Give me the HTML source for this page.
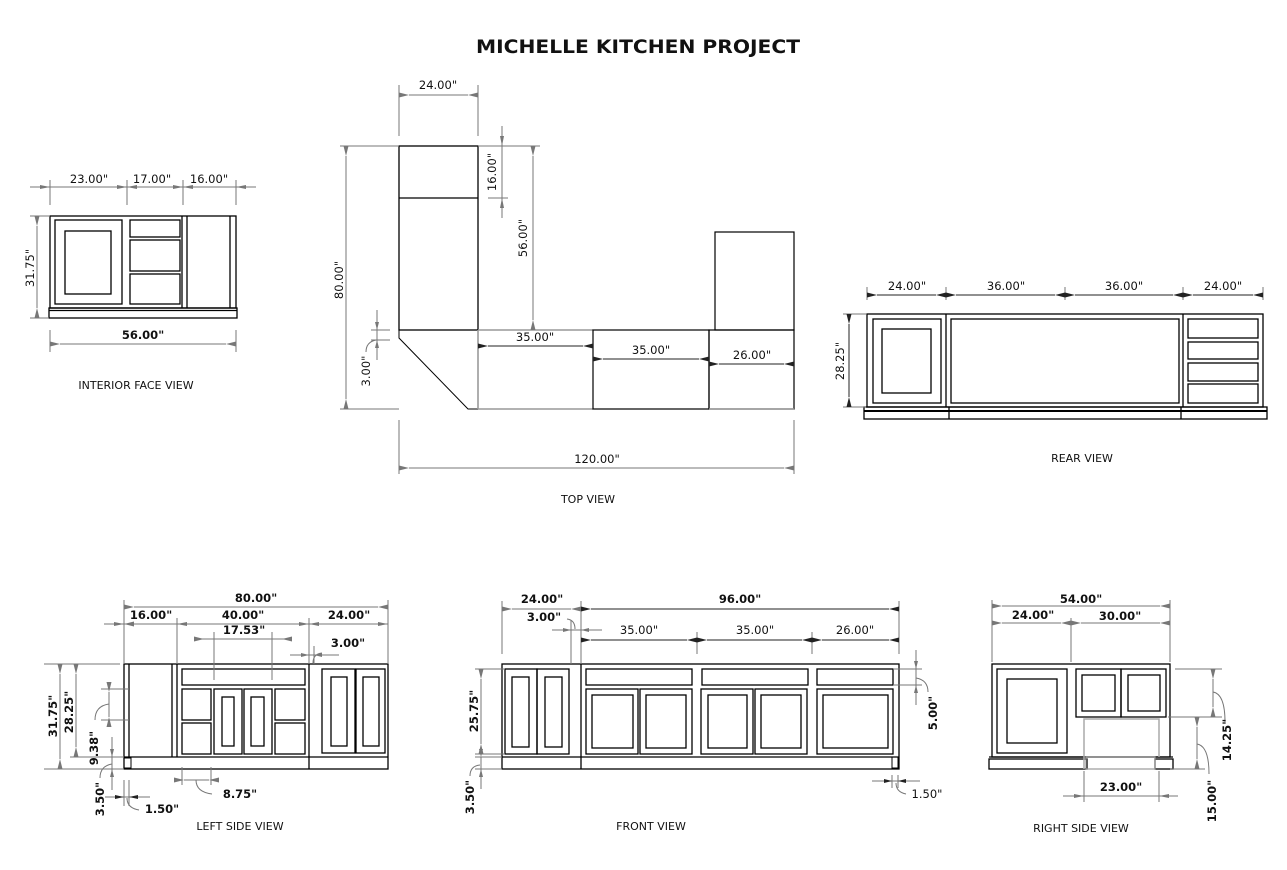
<!DOCTYPE html>
<html><head><meta charset="utf-8"><style>
html,body{margin:0;padding:0;background:#fff;}
svg{display:block}
text{font-family:"DejaVu Sans","Liberation Sans",sans-serif;font-size:11.5px;fill:#111}
.b{font-weight:bold}
.o{fill:none;stroke:#000;stroke-width:1.3}
.g{fill:none;stroke:#999;stroke-width:1.6}
.d{fill:none;stroke:#777;stroke-width:1}
.a{fill:none;stroke:#777;stroke-width:1;marker-start:url(#m);marker-end:url(#m)}
.k{fill:none;stroke:#222;stroke-width:1;marker-start:url(#mk);marker-end:url(#mk)}
</style></head><body>
<svg width="1287" height="870" viewBox="0 0 1287 870" xmlns="http://www.w3.org/2000/svg">
<defs>
<marker id="m" viewBox="0 0 10 6" refX="0" refY="3" markerWidth="10" markerHeight="6" orient="auto-start-reverse" markerUnits="userSpaceOnUse"><path d="M0,3 L10,0.5 L10,5.5z" fill="#777"/></marker>
<marker id="mk" viewBox="0 0 10 6" refX="0" refY="3" markerWidth="10" markerHeight="6" orient="auto-start-reverse" markerUnits="userSpaceOnUse"><path d="M0,3 L10,0.5 L10,5.5z" fill="#222"/></marker>
</defs>
<text x="638" y="53" text-anchor="middle" style="font-size:19px;font-weight:bold" textLength="324" lengthAdjust="spacingAndGlyphs">MICHELLE KITCHEN PROJECT</text>

<!-- INTERIOR FACE VIEW -->
<rect class="o" x="50" y="216" width="186" height="92"/>
<rect class="o" x="49" y="308" width="188" height="10"/>
<line class="o" x1="49" y1="310.5" x2="237" y2="310.5"/>
<rect class="o" x="55" y="220" width="67" height="84"/>
<rect class="o" x="65" y="231" width="46" height="63"/>
<rect class="o" x="130" y="220" width="50" height="17"/>
<rect class="o" x="130" y="240" width="50" height="31"/>
<rect class="o" x="130" y="274" width="50" height="30"/>
<line class="o" x1="182" y1="216" x2="182" y2="308"/><line class="o" x1="187" y1="216" x2="187" y2="308"/>
<line class="o" x1="230" y1="216" x2="230" y2="308"/>
<line class="d" x1="50" y1="180" x2="50" y2="205"/><line class="d" x1="127" y1="180" x2="127" y2="205"/><line class="d" x1="183" y1="180" x2="183" y2="205"/><line class="d" x1="236" y1="180" x2="236" y2="205"/>
<line class="d" x1="30" y1="187" x2="256" y2="187"/>
<path d="M50,187 l-10,-2 v4z M127,187 l-10,-2 v4z M127,187 l10,-2 v4z M183,187 l-10,-2 v4z M183,187 l10,-2 v4z M236,187 l10,-2 v4z" fill="#777"/>
<text x="89" y="183" text-anchor="middle">23.00"</text><text x="152" y="183" text-anchor="middle">17.00"</text><text x="209" y="183" text-anchor="middle">16.00"</text>
<line class="d" x1="50" y1="330" x2="50" y2="352"/><line class="d" x1="236" y1="330" x2="236" y2="352"/>
<line class="a" x1="60" y1="344" x2="226" y2="344"/>
<text x="143" y="339" text-anchor="middle" class="b">56.00"</text>
<line class="d" x1="30" y1="216" x2="50" y2="216"/><line class="d" x1="30" y1="318" x2="49" y2="318"/>
<line class="a" x1="37" y1="226" x2="37" y2="308"/>
<text transform="translate(34,268) rotate(-90)" text-anchor="middle">31.75"</text>
<text x="136" y="389" text-anchor="middle" style="font-size:11px">INTERIOR FACE VIEW</text>

<!-- TOP VIEW -->
<rect class="o" x="399" y="146" width="79" height="184"/>
<line class="o" x1="399" y1="198" x2="478" y2="198"/>
<path class="o" d="M399,330 V338 L468,409 H478" style="stroke-width:1"/>
<line class="g" x1="478" y1="330" x2="478" y2="409"/>
<line class="g" x1="478" y1="330" x2="593" y2="330"/>
<line class="g" x1="478" y1="409" x2="593" y2="409"/>
<rect class="o" x="593" y="330" width="116" height="79" style="stroke-width:1.2"/>
<rect class="o" x="709" y="330" width="85" height="79" style="stroke-width:1.2"/>
<line class="g" x1="709" y1="409" x2="794" y2="409"/>
<rect class="o" x="715" y="232" width="79" height="98" style="stroke-width:1.2"/>
<line class="d" x1="399" y1="85" x2="399" y2="136"/><line class="d" x1="478" y1="85" x2="478" y2="136"/>
<line class="a" x1="409" y1="95" x2="468" y2="95"/>
<text x="438" y="89" text-anchor="middle">24.00"</text>
<line class="d" x1="340" y1="146" x2="399" y2="146"/><line class="d" x1="340" y1="409" x2="399" y2="409"/>
<line class="a" x1="346" y1="156" x2="346" y2="399"/>
<text transform="translate(343,280) rotate(-90)" text-anchor="middle">80.00"</text>
<line class="d" x1="478" y1="146" x2="540" y2="146"/><line class="d" x1="488" y1="198" x2="508" y2="198"/>
<line class="d" x1="502" y1="126" x2="502" y2="218"/>
<path d="M502,146 l-2,-10 h4z M502,198 l-2,10 h4z" fill="#777"/>
<text transform="translate(496,172) rotate(-90)" text-anchor="middle">16.00"</text>
<line class="a" x1="533" y1="156" x2="533" y2="320"/>
<text transform="translate(527,238) rotate(-90)" text-anchor="middle">56.00"</text>
<line class="d" x1="371" y1="330" x2="390" y2="330"/><line class="d" x1="371" y1="340" x2="390" y2="340"/>
<line class="d" x1="377" y1="310" x2="377" y2="360"/>
<path d="M377,330 l-2,-8 h4z M377,340 l-2,8 h4z" fill="#777"/>
<path class="d" d="M366,352 q0,-10 10,-12"/>
<text transform="translate(370,371) rotate(-90)" text-anchor="middle">3.00"</text>
<line class="k" x1="488" y1="346" x2="583" y2="346"/><text x="535" y="341" text-anchor="middle">35.00"</text>
<line class="k" x1="603" y1="359" x2="699" y2="359"/><text x="651" y="354" text-anchor="middle">35.00"</text>
<line class="k" x1="719" y1="364" x2="784" y2="364"/><text x="752" y="359" text-anchor="middle">26.00"</text>
<line class="d" x1="399" y1="420" x2="399" y2="474"/><line class="d" x1="794" y1="420" x2="794" y2="474"/>
<line class="a" x1="409" y1="468" x2="784" y2="468"/>
<text x="597" y="463" text-anchor="middle">120.00"</text>
<text x="588" y="503" text-anchor="middle" style="font-size:11px">TOP VIEW</text>

<!-- REAR VIEW -->
<rect class="o" x="867" y="314" width="396" height="93"/>
<rect class="o" x="864" y="407" width="403" height="12"/>
<line class="o" x1="864" y1="411" x2="1267" y2="411" style="stroke-width:2"/>
<line class="o" x1="946" y1="314" x2="946" y2="407"/><line class="o" x1="1183" y1="314" x2="1183" y2="407"/>
<line class="o" x1="949" y1="407" x2="949" y2="419"/><line class="o" x1="1181" y1="407" x2="1181" y2="419"/>
<rect class="o" x="873" y="319" width="68" height="84"/><rect class="o" x="882" y="329" width="49" height="64"/>
<rect class="o" x="951" y="319" width="228" height="84"/>
<rect class="o" x="1188" y="319" width="70" height="19"/><rect class="o" x="1188" y="342" width="70" height="17"/>
<rect class="o" x="1188" y="363" width="70" height="18"/><rect class="o" x="1188" y="384" width="70" height="19"/>
<g class="d"><line x1="867" y1="287" x2="867" y2="300"/><line x1="946" y1="287" x2="946" y2="300"/><line x1="1065" y1="287" x2="1065" y2="300"/><line x1="1183" y1="287" x2="1183" y2="300"/><line x1="1263" y1="287" x2="1263" y2="300"/></g>
<line class="k" x1="877" y1="295" x2="936" y2="295"/><line class="k" x1="956" y1="295" x2="1055" y2="295"/><line class="k" x1="1075" y1="295" x2="1173" y2="295"/><line class="k" x1="1193" y1="295" x2="1253" y2="295"/>
<text x="907" y="290" text-anchor="middle">24.00"</text><text x="1006" y="290" text-anchor="middle">36.00"</text><text x="1124" y="290" text-anchor="middle">36.00"</text><text x="1223" y="290" text-anchor="middle">24.00"</text>
<line class="d" x1="843" y1="314" x2="866" y2="314"/><line class="d" x1="843" y1="407" x2="866" y2="407"/>
<line class="k" x1="849" y1="324" x2="849" y2="397"/>
<text transform="translate(844,361) rotate(-90)" text-anchor="middle">28.25"</text>
<text x="1082" y="462" text-anchor="middle" style="font-size:11px">REAR VIEW</text>

<!-- LEFT SIDE VIEW -->
<rect class="o" x="124" y="664" width="264" height="105"/>
<line class="o" x1="124" y1="757" x2="388" y2="757"/>
<line class="o" x1="129" y1="664" x2="129" y2="757"/>
<line class="o" x1="172" y1="664" x2="172" y2="757"/><line class="o" x1="177" y1="664" x2="177" y2="757"/>
<line class="o" x1="309" y1="664" x2="309" y2="769"/>
<rect class="o" x="124" y="758" width="7" height="10" style="stroke-width:1"/>
<rect class="o" x="182" y="669" width="123" height="16"/>
<rect class="o" x="182" y="689" width="29" height="31"/><rect class="o" x="182" y="723" width="29" height="31"/>
<rect class="o" x="214" y="689" width="28" height="65"/><rect class="o" x="222" y="697" width="12" height="49"/>
<rect class="o" x="244" y="689" width="28" height="65"/><rect class="o" x="251" y="697" width="13" height="49"/>
<rect class="o" x="275" y="689" width="30" height="31"/><rect class="o" x="275" y="723" width="30" height="31"/>
<rect class="o" x="322" y="669" width="33" height="84"/><rect class="o" x="331" y="677" width="16" height="69"/>
<rect class="o" x="356" y="669" width="29" height="84"/><rect class="o" x="363" y="677" width="16" height="69"/>
<g class="d"><line x1="124" y1="600" x2="124" y2="664"/><line x1="388" y1="600" x2="388" y2="664"/><line x1="177" y1="618" x2="177" y2="664"/><line x1="309" y1="618" x2="309" y2="664"/>
<line x1="214" y1="632" x2="214" y2="680"/><line x1="272" y1="632" x2="272" y2="680"/></g>
<line class="a" x1="134" y1="607" x2="378" y2="607"/><text x="256" y="602" text-anchor="middle" class="b">80.00"</text>
<line class="a" x1="114" y1="624" x2="124" y2="624" style="marker-start:none"/>
<line class="d" x1="104" y1="624" x2="388" y2="624"/>
<path d="M124,624 l-10,-2 v4z M177,624 l10,-2 v4z M309,624 l-10,-2 v4z M309,624 l10,-2 v4z M388,624 l-10,-2 v4z" fill="#777"/>
<text x="151" y="619" text-anchor="middle" class="b">16.00"</text><text x="243" y="619" text-anchor="middle" class="b">40.00"</text><text x="349" y="619" text-anchor="middle" class="b">24.00"</text>
<line class="a" x1="204" y1="639" x2="282" y2="639"/><line class="d" x1="194" y1="639" x2="292" y2="639"/><text x="244" y="634" text-anchor="middle" class="b">17.53"</text>
<line class="d" x1="290" y1="655" x2="339" y2="655"/><line class="d" x1="314" y1="646" x2="314" y2="664"/>
<path d="M309,655 l-8,-2 v4z M314,655 l8,-2 v4z" fill="#777"/>
<path class="d" d="M313,663 q0,-9 9,-10"/>
<text x="348" y="647" text-anchor="middle" class="b">3.00"</text>
<g class="d"><line x1="44" y1="664" x2="120" y2="664"/><line x1="44" y1="769" x2="124" y2="769"/><line x1="70" y1="757" x2="124" y2="757"/>
<line x1="101" y1="689" x2="129" y2="689"/><line x1="101" y1="720" x2="129" y2="720"/>
<line x1="112" y1="737" x2="112" y2="790"/></g>
<line class="a" x1="60" y1="674" x2="60" y2="759"/>
<line class="a" x1="76" y1="674" x2="76" y2="747"/>
<line class="a" x1="109" y1="692" x2="109" y2="717"/><path class="d" d="M95,720 q0,-14 14,-16"/>
<path d="M112,757 l-2,-8 h4z M112,769 l-2,8 h4z" fill="#777"/><path class="d" d="M100,778 q0,-12 12,-14"/>
<text transform="translate(57,716) rotate(-90)" text-anchor="middle" class="b">31.75"</text>
<text transform="translate(73,712) rotate(-90)" text-anchor="middle" class="b">28.25"</text>
<text transform="translate(98,748) rotate(-90)" text-anchor="middle" class="b">9.38"</text>
<text transform="translate(104,799) rotate(-90)" text-anchor="middle" class="b">3.50"</text>
<g class="d"><line x1="124" y1="780" x2="124" y2="806"/><line x1="129" y1="780" x2="129" y2="806"/><line x1="105" y1="797" x2="150" y2="797"/>
<line x1="182" y1="767" x2="182" y2="785"/><line x1="211" y1="767" x2="211" y2="785"/></g>
<path d="M124,797 l-9,-2 v4z M129,797 l9,-2 v4z" fill="#222"/>
<path class="d" d="M127,798 q0,10 12,12"/>
<text x="162" y="813" text-anchor="middle" class="b">1.50"</text>
<line class="a" x1="184" y1="780" x2="209" y2="780"/><path class="d" d="M196,780 q0,12 16,14"/>
<text x="240" y="798" text-anchor="middle" class="b">8.75"</text>
<text x="240" y="830" text-anchor="middle" style="font-size:11px">LEFT SIDE VIEW</text>

<!-- FRONT VIEW -->
<rect class="o" x="502" y="664" width="397" height="105"/>
<line class="o" x1="502" y1="757" x2="899" y2="757"/>
<line class="o" x1="581" y1="664" x2="581" y2="769"/>
<rect class="o" x="505" y="669" width="32" height="85"/><rect class="o" x="537" y="669" width="32" height="85"/>
<rect class="o" x="512" y="677" width="17" height="70"/><rect class="o" x="545" y="677" width="17" height="70"/>
<rect class="o" x="586" y="669" width="106" height="16"/><rect class="o" x="702" y="669" width="106" height="16"/><rect class="o" x="817" y="669" width="76" height="16"/>
<rect class="o" x="586" y="689" width="52" height="65"/><rect class="o" x="640" y="689" width="52" height="65"/>
<rect class="o" x="701" y="689" width="52" height="65"/><rect class="o" x="755" y="689" width="52" height="65"/>
<rect class="o" x="817" y="689" width="76" height="65"/>
<rect class="o" x="592" y="695" width="41" height="53"/><rect class="o" x="646" y="695" width="40" height="53"/>
<rect class="o" x="708" y="695" width="39" height="53"/><rect class="o" x="761" y="695" width="40" height="53"/><rect class="o" x="823" y="695" width="65" height="53"/>
<rect class="o" x="892" y="757" width="6" height="11" style="stroke-width:1"/>
<g class="d"><line x1="502" y1="601" x2="502" y2="654"/><line x1="581" y1="601" x2="581" y2="664"/><line x1="899" y1="601" x2="899" y2="654"/><line x1="571" y1="620" x2="571" y2="664"/>
<line x1="697" y1="632" x2="697" y2="654"/><line x1="812" y1="632" x2="812" y2="654"/><line x1="552" y1="630" x2="602" y2="630"/></g>
<line class="a" x1="512" y1="609" x2="571" y2="609"/><text x="542" y="603" text-anchor="middle" class="b">24.00"</text>
<line class="k" x1="591" y1="609" x2="889" y2="609"/><text x="740" y="603" text-anchor="middle" class="b">96.00"</text>
<path d="M571,630 l-8,-2 v4z M581,630 l8,-2 v4z" fill="#777"/><path class="d" d="M575,629 q0,-9 -8,-10"/>
<text x="544" y="621" text-anchor="middle" class="b">3.00"</text>
<line class="k" x1="591" y1="640" x2="687" y2="640"/><line class="k" x1="707" y1="640" x2="802" y2="640"/><line class="k" x1="822" y1="640" x2="889" y2="640"/>
<text x="639" y="634" text-anchor="middle">35.00"</text><text x="755" y="634" text-anchor="middle">35.00"</text><text x="855" y="634" text-anchor="middle">26.00"</text>
<g class="d"><line x1="475" y1="669" x2="505" y2="669"/><line x1="475" y1="754" x2="505" y2="754"/><line x1="475" y1="757" x2="502" y2="757"/><line x1="475" y1="769" x2="502" y2="769"/>
<line x1="481" y1="757" x2="481" y2="789"/><line x1="893" y1="669" x2="922" y2="669"/><line x1="893" y1="685" x2="922" y2="685"/><line x1="916" y1="650" x2="916" y2="705"/></g>
<line class="a" x1="481" y1="679" x2="481" y2="744"/>
<path d="M481,757 l-2,-8 h4z M481,769 l-2,8 h4z" fill="#777"/><path class="d" d="M470,776 q0,-10 10,-11"/>
<text transform="translate(478,711) rotate(-90)" text-anchor="middle" class="b">25.75"</text>
<text transform="translate(474,797) rotate(-90)" text-anchor="middle" class="b">3.50"</text>
<path d="M916,669 l-2,-8 h4z M916,685 l-2,8 h4z" fill="#777"/><path class="d" d="M916,678 q12,2 12,14"/>
<text transform="translate(937,713) rotate(-90)" text-anchor="middle" class="b">5.00"</text>
<g class="d"><line x1="892" y1="775" x2="892" y2="788"/><line x1="898" y1="775" x2="898" y2="788"/><line x1="872" y1="781" x2="920" y2="781"/></g>
<path d="M892,781 l-8,-2 v4z M898,781 l8,-2 v4z" fill="#222"/><path class="d" d="M896,783 q0,9 10,11"/>
<text x="927" y="798" text-anchor="middle">1.50"</text>
<text x="651" y="830" text-anchor="middle" style="font-size:11px">FRONT VIEW</text>

<!-- RIGHT SIDE VIEW -->
<rect class="o" x="992" y="664" width="178" height="93"/>
<rect class="o" x="989" y="759" width="98" height="10"/><rect class="o" x="1155" y="759" width="18" height="10"/>
<line class="o" x1="989" y1="757" x2="1173" y2="757"/>
<rect x="1086" y="757" width="69" height="12" fill="none" stroke="#999" stroke-width="1.2"/>
<path d="M1084,769 V719 H1159 V757" fill="none" stroke="#aaa" stroke-width="1.5"/>
<rect class="o" x="997" y="669" width="70" height="84"/><rect class="o" x="1007" y="679" width="50" height="64"/>
<rect class="o" x="1076" y="669" width="45" height="48"/><rect class="o" x="1121" y="669" width="45" height="48"/>
<rect class="o" x="1082" y="675" width="33" height="36"/><rect class="o" x="1128" y="675" width="32" height="36"/>
<g class="d"><line x1="992" y1="600" x2="992" y2="662"/><line x1="1170" y1="600" x2="1170" y2="662"/><line x1="1071" y1="618" x2="1071" y2="662"/></g>
<line class="a" x1="1002" y1="606" x2="1160" y2="606"/><text x="1081" y="603" text-anchor="middle" class="b">54.00"</text>
<line class="a" x1="1002" y1="623" x2="1061" y2="623"/><line class="a" x1="1081" y1="623" x2="1160" y2="623"/>
<text x="1033" y="619" text-anchor="middle" class="b">24.00"</text><text x="1120" y="620" text-anchor="middle" class="b">30.00"</text>
<g class="d"><line x1="1175" y1="669" x2="1222" y2="669"/><line x1="1168" y1="717" x2="1222" y2="717"/><line x1="1170" y1="769" x2="1205" y2="769"/>
<line x1="1084" y1="771" x2="1084" y2="802"/><line x1="1159" y1="771" x2="1159" y2="802"/></g>
<line class="a" x1="1213" y1="679" x2="1213" y2="707"/><path class="d" d="M1213,692 q12,2 12,30"/>
<line class="a" x1="1197" y1="727" x2="1197" y2="759"/><path class="d" d="M1197,744 q12,2 12,30"/>
<text transform="translate(1231,740) rotate(-90)" text-anchor="middle" class="b">14.25"</text>
<text transform="translate(1216,801) rotate(-90)" text-anchor="middle" class="b">15.00"</text>
<line class="d" x1="1063" y1="796" x2="1178" y2="796"/><path d="M1084,796 l-10,-2 v4z M1159,796 l10,-2 v4z" fill="#777"/>
<text x="1121" y="791" text-anchor="middle" class="b">23.00"</text>
<text x="1081" y="832" text-anchor="middle" style="font-size:11px">RIGHT SIDE VIEW</text>
</svg>
</body></html>
